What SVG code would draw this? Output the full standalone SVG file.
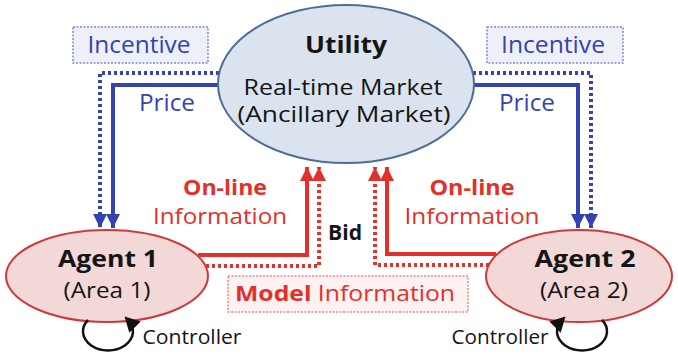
<svg xmlns="http://www.w3.org/2000/svg" width="678" height="354" viewBox="0 0 678 354">
  <style>
    text { font-family: "Open Sans", "Noto Sans", "Liberation Sans", sans-serif; text-anchor: middle; }
    .blue-solid { fill: none; stroke: #3543b0; stroke-width: 4; }
    .blue-dot { fill: none; stroke: #3543b0; stroke-width: 4; stroke-dasharray: 3 3; }
    .red-solid { fill: none; stroke: #e2302b; stroke-width: 4; }
    .red-dot { fill: none; stroke: #e2302b; stroke-width: 4; stroke-dasharray: 3 3; }
    .loop { fill: none; stroke: #111; stroke-width: 2.5; }
    .lbl-blue { fill: #3543b0; font-size: 23px; }
    .lbl-red { fill: #e2302b; font-size: 22px; }
    .lbl-black { fill: #151515; }
    .box-blue { fill: #eef0f8; stroke: #7d88cc; stroke-width: 1.5; stroke-dasharray: 2 1.5; }
    .box-red { fill: #fdf1f1; stroke: #e58a8a; stroke-width: 1.5; stroke-dasharray: 2 1.5; }
    .agent { fill: #f3d8d8; stroke: #d0393c; stroke-width: 2; }
  </style>
  <defs>
    <marker id="ahBlue" markerUnits="userSpaceOnUse" markerWidth="16" markerHeight="16" viewBox="0 0 16 16" refX="14" refY="8" orient="auto">
      <path d="M0,1 L14,8 L0,15 Z" fill="#3543b0"/>
    </marker>
    <marker id="ahRed" markerUnits="userSpaceOnUse" markerWidth="16" markerHeight="16" viewBox="0 0 16 16" refX="14" refY="8" orient="auto">
      <path d="M0,1 L14,8 L0,15 Z" fill="#e2302b"/>
    </marker>
    <marker id="ahBlack" markerUnits="userSpaceOnUse" markerWidth="18" markerHeight="18" viewBox="0 0 18 18" refX="10" refY="9" orient="auto">
      <path d="M0,1 L15,9 L0,17 Z" fill="#111"/>
    </marker>
  </defs>

  <rect width="678" height="354" fill="#ffffff"/>

  <!-- label boxes -->
  <g id="incentive-left">
    <rect class="box-blue" x="73" y="27" width="135" height="36"/>
    <text class="lbl-blue" x="139" y="53" textLength="103" lengthAdjust="spacingAndGlyphs">Incentive</text>
  </g>
  <g id="incentive-right">
    <rect class="box-blue" x="487" y="27" width="136" height="36"/>
    <text class="lbl-blue" x="553" y="53" textLength="104" lengthAdjust="spacingAndGlyphs">Incentive</text>
  </g>
  <g id="model-info">
    <rect class="box-red" x="228" y="276" width="240" height="36"/>
    <text class="lbl-red" x="345" y="301" textLength="220" lengthAdjust="spacingAndGlyphs"><tspan font-weight="bold">Model</tspan> Information</text>
  </g>

  <!-- connectors -->
  <g id="connectors">
    <!-- price / incentive to agents -->
    <path class="blue-solid" d="M219,85 H113 V228" marker-end="url(#ahBlue)"/>
    <path class="blue-dot" d="M219,73 H100 V228" marker-end="url(#ahBlue)"/>
    <path class="blue-solid" d="M473,85 H578 V228" marker-end="url(#ahBlue)"/>
    <path class="blue-dot" d="M473,73 H591 V228" marker-end="url(#ahBlue)"/>
    <!-- on-line / model information to utility -->
    <path class="red-solid" d="M198,255 H307 V167" marker-end="url(#ahRed)"/>
    <path class="red-dot" d="M206,266 H319 V167" marker-end="url(#ahRed)"/>
    <path class="red-solid" d="M496,254 H387 V167" marker-end="url(#ahRed)"/>
    <path class="red-dot" d="M489,265 H375 V167" marker-end="url(#ahRed)"/>
  </g>

  <!-- nodes -->
  <g id="utility">
    <ellipse cx="346" cy="84" rx="128" ry="79" fill="#dbe3ef" stroke="#4e6e96" stroke-width="2"/>
    <text class="lbl-black" x="346" y="53" font-size="23" font-weight="bold" textLength="82" lengthAdjust="spacingAndGlyphs">Utility</text>
    <text class="lbl-black" x="343" y="95" font-size="21" textLength="199" lengthAdjust="spacingAndGlyphs">Real-time Market</text>
    <text class="lbl-black" x="344" y="122" font-size="21" textLength="213" lengthAdjust="spacingAndGlyphs">(Ancillary Market)</text>
  </g>
  <g id="agent1">
    <ellipse class="agent" cx="107" cy="276" rx="101" ry="46"/>
    <text class="lbl-black" x="108" y="267" font-size="24" font-weight="bold" textLength="100" lengthAdjust="spacingAndGlyphs">Agent 1</text>
    <text class="lbl-black" x="107" y="298" font-size="22" textLength="87" lengthAdjust="spacingAndGlyphs">(Area 1)</text>
  </g>
  <g id="agent2">
    <ellipse class="agent" cx="579" cy="276" rx="93" ry="46"/>
    <text class="lbl-black" x="585" y="267" font-size="24" font-weight="bold" textLength="101" lengthAdjust="spacingAndGlyphs">Agent 2</text>
    <text class="lbl-black" x="584" y="298" font-size="22" textLength="88" lengthAdjust="spacingAndGlyphs">(Area 2)</text>
  </g>

  <!-- controller loops (drawn over the agent ellipses) -->
  <g id="controller-loops">
    <path class="loop" d="M88,320 A25,19 0 1 0 128,320" marker-end="url(#ahBlack)"/>
    <path class="loop" d="M602,320 A25,19 0 1 1 562,320" marker-end="url(#ahBlack)"/>
  </g>

  <!-- connector labels -->
  <g id="labels">
    <text class="lbl-blue" x="167" y="111" textLength="56" lengthAdjust="spacingAndGlyphs">Price</text>
    <text class="lbl-blue" x="527" y="111" textLength="56" lengthAdjust="spacingAndGlyphs">Price</text>
    <text class="lbl-red" x="225" y="195" font-weight="bold" textLength="84" lengthAdjust="spacingAndGlyphs">On-line</text>
    <text class="lbl-red" x="220" y="224" textLength="134" lengthAdjust="spacingAndGlyphs">Information</text>
    <text class="lbl-red" x="472" y="195" font-weight="bold" textLength="85" lengthAdjust="spacingAndGlyphs">On-line</text>
    <text class="lbl-red" x="472" y="224" textLength="135" lengthAdjust="spacingAndGlyphs">Information</text>
    <text class="lbl-black" x="345" y="240" font-size="21" font-weight="bold" textLength="34" lengthAdjust="spacingAndGlyphs">Bid</text>
    <text class="lbl-black" x="192" y="344" font-size="20" fill="#222" textLength="99" lengthAdjust="spacingAndGlyphs">Controller</text>
    <text class="lbl-black" x="500" y="344" font-size="20" fill="#222" textLength="97" lengthAdjust="spacingAndGlyphs">Controller</text>
  </g>
</svg>
